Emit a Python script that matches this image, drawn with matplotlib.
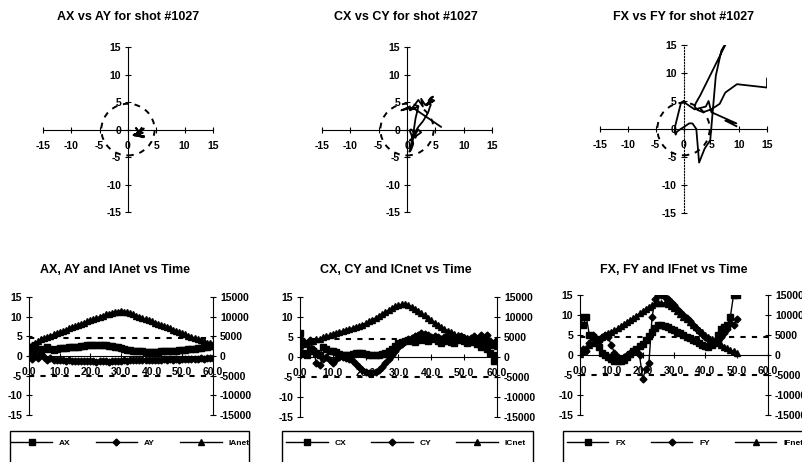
import matplotlib.pyplot as plt
from matplotlib.patches import Circle, Rectangle
from matplotlib.ticker import MultipleLocator, FormatStrFormatter

plt.rcParams['font.family'] = ['Liberation Sans', 'DejaVu Sans']
plt.rcParams['font.weight'] = 'bold'
plt.rcParams['axes.unicode_minus'] = False

shot = 1027

# time in seconds-ish, one reading per unit
time_ac = [0, 1, 2, 3, 4, 5, 6, 7, 8, 9, 10, 11, 12, 13, 14, 15, 16, 17, 18, 19,
           20, 21, 22, 23, 24, 25, 26, 27, 28, 29, 30, 31, 32, 33, 34, 35, 36, 37, 38, 39,
           40, 41, 42, 43, 44, 45, 46, 47, 48, 49, 50, 51, 52, 53, 54, 55, 56, 57, 58, 59, 60]
time_f = [0, 1, 2, 3, 4, 5, 6, 7, 8, 9, 10, 11, 12, 13, 14, 15, 16, 17, 18, 19,
          20, 21, 22, 23, 24, 25, 26, 27, 28, 29, 30, 31, 32, 33, 34, 35, 36, 37, 38, 39,
          40, 41, 42, 43, 44, 45, 46, 47, 48, 49, 50]

AX = [2.4, 1.6, 2.8, 1.9, 1.4, 1.8, 2.2, 1.7, 1.5, 1.8,
      2.0, 2.1, 2.0, 2.2, 2.3, 2.4, 2.4, 2.5, 2.6, 2.7,
      2.7, 2.8, 2.8, 2.7, 2.8, 2.7, 2.6, 2.5, 2.4, 2.2,
      2.0, 1.8, 1.6, 1.5, 1.4, 1.3, 1.2, 1.2, 1.1, 1.1,
      1.0, 1.1, 1.1, 1.2, 1.2, 1.3, 1.3, 1.4, 1.4, 1.5,
      1.5, 1.6, 1.7, 1.8, 1.9, 2.0, 2.1, 2.3, 2.4, 2.5, 2.6]
AY = [0.3, -0.8, 0.2, -0.5, 0.3, -0.2, -1.0, -0.4, -0.9, -1.1,
      -1.0, -1.1, -1.2, -1.1, -1.2, -1.3, -1.2, -1.3, -1.2, -1.3,
      -1.2, -1.3, -1.4, -1.3, -1.2, -1.3, -1.4, -1.3, -1.2, -1.3,
      -1.2, -1.1, -1.2, -1.1, -1.0, -1.1, -1.0, -1.1, -1.0, -0.9,
      -1.0, -0.9, -1.0, -0.9, -0.8, -0.9, -0.8, -0.9, -0.8, -0.9,
      -0.8, -0.7, -0.8, -0.7, -0.8, -0.7, -0.6, -0.7, -0.6, -0.5, -0.6]
IAnet = [2500, 2900, 3300, 3800, 4200, 4500, 4900, 5200, 5500, 5800,
         6100, 6400, 6700, 7000, 7300, 7600, 7900, 8200, 8500, 8800,
         9100, 9400, 9700, 10000, 10300, 10600, 10800, 11000, 11200, 11300,
         11400, 11300, 11100, 10900, 10600, 10300, 10000, 9700, 9400, 9100,
         8800, 8500, 8200, 7900, 7600, 7300, 7000, 6700, 6400, 6100,
         5800, 5500, 5200, 4900, 4600, 4300, 4000, 3700, 3400, 3200, 3000]

CX = [6.0, 1.0, 0.5, 2.0, 1.5, 1.0, 0.5, 2.5, 2.0, 1.5,
      1.5, 1.2, 0.8, 0.6, 0.5, 0.6, 0.8, 1.0, 1.1, 0.9,
      0.7, 0.5, 0.4, 0.5, 0.6, 0.8, 1.0, 1.4, 2.0, 2.8,
      3.4, 3.8, 4.0, 4.2, 4.0, 3.8, 4.3, 4.6, 4.2, 3.9,
      4.4, 4.8, 4.1, 3.6, 4.0, 4.5, 3.8, 3.5, 4.2, 4.6,
      3.9, 3.4, 3.8, 4.3, 3.2, 2.5, 2.8, 2.0, 1.0, -1.0, 0.5]
CY = [0.5, 4.0, 3.5, 4.2, 2.0, -1.5, -2.0, -0.5, 0.0, -0.8,
      -1.5, -0.5, 0.0, 0.0, -0.2, -0.5, -1.0, -1.8, -2.6, -3.2,
      -3.7, -4.0, -4.0, -3.8, -3.2, -2.4, -1.5, -0.5, 0.5, 1.5,
      2.5, 3.3, 4.0, 4.5, 4.8, 5.2, 5.6, 6.0, 5.8, 5.4,
      5.0, 5.3, 5.0, 4.6, 5.0, 5.4, 4.8, 4.5, 4.9, 5.3,
      4.7, 4.4, 4.8, 5.2, 4.5, 5.6, 4.2, 5.4, 4.0, 3.5, 4.2]
ICnet = [3000, 3300, 3600, 3900, 4100, 4400, 4600, 4900, 5200, 5500,
         5800, 6000, 6300, 6500, 6800, 7000, 7300, 7500, 7800, 8100,
         8500, 8900, 9300, 9800, 10300, 10800, 11300, 11800, 12300, 12700,
         13000, 13200, 13200, 13000, 12600, 12100, 11600, 11000, 10400, 9800,
         9200, 8600, 8000, 7500, 7000, 6600, 6200, 5800, 5500, 5200,
         5000, 4800, 4600, 4400, 4200, 4000, 3800, 3500, 3300, 3000, 2800]

FX = [9.5, 7.5, 9.5, 5.0, 4.5, 4.0, 2.0, 0.5, 0.0, -0.5,
      -1.0, -1.5, -1.6, -1.4, -1.2, -0.5, 0.3, 1.0, 1.6, 2.3,
      2.8, 3.8, 4.8, 5.8, 6.8, 7.4, 7.5, 7.3, 7.0, 6.6,
      6.2, 5.8, 5.4, 5.0, 4.6, 4.2, 3.8, 3.4, 3.0, 2.6,
      2.2, 2.0, 2.5, 3.5, 5.0, 6.5, 7.0, 7.5, 9.6, 15.0, 15.0]
FY = [0.5, 1.5, 1.0, 3.0, 5.0, 4.0, 3.5, 4.5, 5.0, 4.5,
      2.5, 0.5, -0.5, -1.0, -0.5, 0.0, 0.5, 1.0, 1.0, 0.0,
      -6.0, -3.5, -2.0, 9.5, 14.0, 15.0, 15.0, 14.6, 14.0, 13.2,
      12.4, 11.6, 10.8, 10.0, 9.2, 8.4, 7.6, 6.8, 6.0, 5.3,
      4.6, 4.0, 3.4, 3.0, 3.5, 4.5, 5.5, 6.5, 8.0, 7.4, 9.0]
IFnet = [300, 1000, 1800, 2500, 3100, 3600, 4100, 4600, 5000, 5400,
         5800, 6200, 6700, 7200, 7700, 8200, 8700, 9200, 9800, 10400,
         11000, 11600, 12100, 12600, 12900, 13100, 13100, 13000, 12800, 12300,
         11700, 11000, 10300, 9600, 8900, 8200, 7500, 6900, 6300, 5700,
         5100, 4500, 3900, 3300, 2900, 2500, 2100, 1700, 1300, 900, 500]

groups = [('A', time_ac, AX, AY, IAnet),
          ('C', time_ac, CX, CY, ICnet),
          ('F', time_f, FX, FY, IFnet)]

fig = plt.figure(figsize=(8.03, 4.62), dpi=100)

top_pos = [[0.0535, 0.541, 0.2117, 0.357],
           [0.401, 0.541, 0.2117, 0.357],
           [0.7472, 0.539, 0.208, 0.3636]]
bot_pos = [[0.0361, 0.1017, 0.2291, 0.2554],
           [0.3736, 0.0974, 0.2453, 0.2597],
           [0.7223, 0.1017, 0.2341, 0.2597]]
top_title_x = [0.159, 0.505, 0.851]
bot_title_x = [0.143, 0.493, 0.839]
legend_box = [(10, 249), (282, 533), (563, 810)]
legend_cx = [130, 406, 685]

tick_kw = dict(direction='inout', length=4, width=0.8, labelsize=7.5, colors='black')

for i, (g, t, xs, ys, net) in enumerate(groups):
    # ---- X vs Y path
    ax = fig.add_axes(top_pos[i])
    ax.plot(xs, ys, color='black', lw=1.3)
    ax.add_patch(Circle((0, 0), 4.7, fill=False, ls=(0, (3, 3)), lw=1.4, color='black'))
    ax.set_xlim(-15, 15)
    ax.set_ylim(-15, 15)
    for s in ['top', 'right']:
        ax.spines[s].set_visible(False)
    ax.spines['left'].set_position('zero')
    ax.spines['bottom'].set_position('zero')
    if i == 2:
        ax.spines['left'].set_linestyle(':')
    ax.xaxis.set_major_locator(MultipleLocator(5))
    ax.yaxis.set_major_locator(MultipleLocator(5))
    ax.tick_params(axis='x', pad=6, **tick_kw)
    ax.tick_params(axis='y', pad=3, **tick_kw)
    ax.patch.set_alpha(0)
    fig.text(top_title_x[i], 0.963, f'{g}X vs {g}Y for shot #{shot}',
             ha='center', va='center', fontsize=9, fontweight='bold')

    # ---- time history
    bx = fig.add_axes(bot_pos[i])
    bx.axhline(4.5, color='black', lw=1.5, ls=(0, (2.5, 3)))
    bx.axhline(-5, color='black', lw=1.5, ls=(0, (2.5, 3)))
    lx, = bx.plot(t, xs, color='black', lw=1, marker='s', ms=3.8, label=f'{g}X')
    ly, = bx.plot(t, ys, color='black', lw=1, marker='D', ms=3.5, label=f'{g}Y')
    bx.set_xlim(0, 60)
    bx.set_ylim(-15, 15)
    for s in ['top', 'right']:
        bx.spines[s].set_visible(False)
    bx.spines['bottom'].set_position(('data', 0))
    bx.xaxis.set_major_locator(MultipleLocator(10))
    bx.xaxis.set_major_formatter(FormatStrFormatter('%.1f'))
    bx.yaxis.set_major_locator(MultipleLocator(5))
    bx.tick_params(axis='x', pad=6, **tick_kw)
    bx.tick_params(axis='y', pad=3, **tick_kw)

    rx = bx.twinx()
    ln, = rx.plot(t, net, color='black', lw=1, marker='^', ms=4.2, label=f'I{g}net')
    rx.set_ylim(-15000, 15000)
    rx.yaxis.set_major_locator(MultipleLocator(5000))
    for s in ['top', 'left', 'bottom']:
        rx.spines[s].set_visible(False)
    rx.tick_params(axis='y', pad=3, **tick_kw)
    fig.text(bot_title_x[i], 0.416, f'{g}X, {g}Y and I{g}net vs Time',
             ha='center', va='center', fontsize=9, fontweight='bold')

    # ---- legend box below each chart
    x0, x1 = legend_box[i]
    fig.patches.append(Rectangle((x0 / 803, -0.05), (x1 - x0) / 803, 0.05 + 1 - 431 / 462,
                                 transform=fig.transFigure, fill=False,
                                 edgecolor='black', lw=1))
    fig.legend(handles=[lx, ly, ln], loc='center', ncol=3, frameon=False,
               bbox_to_anchor=(legend_cx[i] / 803, 1 - 443 / 462),
               fontsize=6, handlelength=5, handletextpad=0.8, columnspacing=3.0,
               numpoints=1)

fig.savefig('out.png', dpi=100)
